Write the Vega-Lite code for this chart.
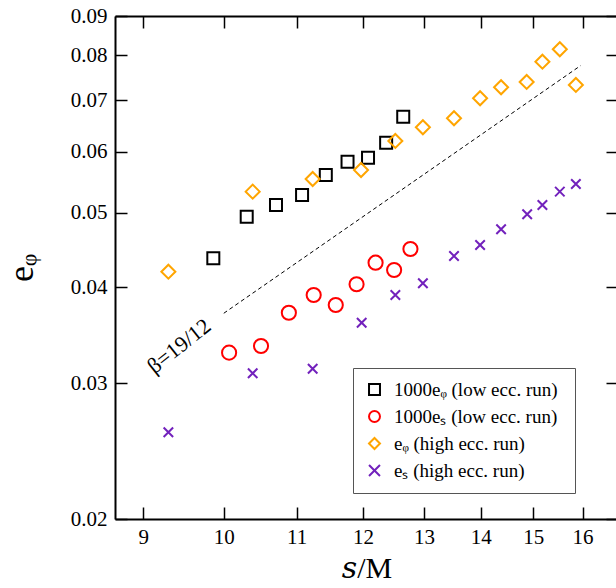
{
  "$schema": "https://vega.github.io/schema/vega-lite/v6.json",
  "width": 503,
  "height": 503,
  "autosize": "none",
  "padding": {"left": 115, "top": 16, "right": 0, "bottom": 69},
  "background": "white",
  "config": {
    "view": {"stroke": null},
    "font": "Liberation Serif",
    "axis": {
      "domainColor": "black", "domainWidth": 2,
      "tickColor": "black", "tickWidth": 1.5, "tickSize": -12,
      "labelFont": "Liberation Serif", "labelFontSize": 21, "labelColor": "black",
      "titleFont": "Liberation Serif, DejaVu Serif", "titleColor": "black", "titleFontWeight": "normal",
      "grid": false
    },
    "legend": {
      "orient": "none", "legendX": 238, "legendY": 352, "title": null,
      "strokeColor": "#555555", "fillColor": "white", "padding": 12,
      "labelFont": "Liberation Serif", "labelFontSize": 19, "labelColor": "black", "labelLimit": 400,
      "rowPadding": 7, "labelOffset": 10, "symbolStrokeWidth": 2, "symbolSize": 120
    }
  },
  "datasets": {
    "pts": [
      {"s": 9.864, "e": 0.04361, "series": "1000eᵩ  (low ecc. run)"},
      {"s": 10.305, "e": 0.04939, "series": "1000eᵩ  (low ecc. run)"},
      {"s": 10.708, "e": 0.05115, "series": "1000eᵩ  (low ecc. run)"},
      {"s": 11.08, "e": 0.0527, "series": "1000eᵩ  (low ecc. run)"},
      {"s": 11.43, "e": 0.05595, "series": "1000eᵩ  (low ecc. run)"},
      {"s": 11.76, "e": 0.05822, "series": "1000eᵩ  (low ecc. run)"},
      {"s": 12.08, "e": 0.05892, "series": "1000eᵩ  (low ecc. run)"},
      {"s": 12.37, "e": 0.06162, "series": "1000eᵩ  (low ecc. run)"},
      {"s": 12.65, "e": 0.06661, "series": "1000eᵩ  (low ecc. run)"},
      {"s": 10.07, "e": 0.03289, "series": "1000eₛ (low ecc. run)"},
      {"s": 10.5, "e": 0.03355, "series": "1000eₛ (low ecc. run)"},
      {"s": 10.89, "e": 0.03706, "series": "1000eₛ (low ecc. run)"},
      {"s": 11.25, "e": 0.03908, "series": "1000eₛ (low ecc. run)"},
      {"s": 11.58, "e": 0.03793, "series": "1000eₛ (low ecc. run)"},
      {"s": 11.9, "e": 0.04035, "series": "1000eₛ (low ecc. run)"},
      {"s": 12.2, "e": 0.04304, "series": "1000eₛ (low ecc. run)"},
      {"s": 12.5, "e": 0.04211, "series": "1000eₛ (low ecc. run)"},
      {"s": 12.77, "e": 0.04484, "series": "1000eₛ (low ecc. run)"},
      {"s": 9.3, "e": 0.0419, "series": "eᵩ (high ecc. run)"},
      {"s": 10.386, "e": 0.05323, "series": "eᵩ (high ecc. run)"},
      {"s": 11.235, "e": 0.05528, "series": "eᵩ (high ecc. run)"},
      {"s": 11.97, "e": 0.05679, "series": "eᵩ (high ecc. run)"},
      {"s": 12.52, "e": 0.06194, "series": "eᵩ (high ecc. run)"},
      {"s": 12.98, "e": 0.06453, "series": "eᵩ (high ecc. run)"},
      {"s": 13.52, "e": 0.06629, "series": "eᵩ (high ecc. run)"},
      {"s": 13.99, "e": 0.07037, "series": "eᵩ (high ecc. run)"},
      {"s": 14.38, "e": 0.07273, "series": "eᵩ (high ecc. run)"},
      {"s": 14.87, "e": 0.07389, "series": "eᵩ (high ecc. run)"},
      {"s": 15.18, "e": 0.07851, "series": "eᵩ (high ecc. run)"},
      {"s": 15.53, "e": 0.08148, "series": "eᵩ (high ecc. run)"},
      {"s": 15.86, "e": 0.07323, "series": "eᵩ (high ecc. run)"},
      {"s": 9.3, "e": 0.02592, "series": "eₛ (high ecc. run)"},
      {"s": 10.386, "e": 0.03092, "series": "eₛ (high ecc. run)"},
      {"s": 11.235, "e": 0.03135, "series": "eₛ (high ecc. run)"},
      {"s": 11.98, "e": 0.03597, "series": "eₛ (high ecc. run)"},
      {"s": 12.52, "e": 0.03908, "series": "eₛ (high ecc. run)"},
      {"s": 12.98, "e": 0.04047, "series": "eₛ (high ecc. run)"},
      {"s": 13.52, "e": 0.04391, "series": "eₛ (high ecc. run)"},
      {"s": 13.99, "e": 0.04538, "series": "eₛ (high ecc. run)"},
      {"s": 14.38, "e": 0.04756, "series": "eₛ (high ecc. run)"},
      {"s": 14.88, "e": 0.04975, "series": "eₛ (high ecc. run)"},
      {"s": 15.18, "e": 0.05115, "series": "eₛ (high ecc. run)"},
      {"s": 15.53, "e": 0.05323, "series": "eₛ (high ecc. run)"},
      {"s": 15.86, "e": 0.05446, "series": "eₛ (high ecc. run)"}
    ],
    "fit": [
      {"s": 10.0, "e": 0.037},
      {"s": 15.96, "e": 0.0776}
    ],
    "lab": [
      {"s": 9.431, "e": 0.03355, "label": "β=19/12"}
    ]
  },
  "encoding": {
    "x": {"field": "s", "type": "quantitative",
          "scale": {"type": "log", "domain": [8.672, 16.76], "nice": false, "zero": false}},
    "y": {"field": "e", "type": "quantitative",
          "scale": {"type": "log", "domain": [0.02, 0.09], "nice": false, "zero": false}}
  },
  "layer": [
    {
      "data": {"name": "fit"},
      "mark": {"type": "line", "color": "black", "strokeWidth": 1, "strokeDash": [4, 3]},
      "encoding": {
        "x": {"field": "s", "type": "quantitative",
              "axis": {"orient": "top", "labels": false, "title": null, "values": [9, 10, 11, 12, 13, 14, 15, 16]}},
        "y": {"field": "e", "type": "quantitative",
              "axis": {"orient": "right", "labels": false, "title": null, "values": [0.02, 0.03, 0.04, 0.05, 0.06, 0.07, 0.08, 0.09]}}
      }
    },
    {
      "data": {"name": "pts"},
      "encoding": {
        "x": {"field": "s", "type": "quantitative",
              "axis": {"orient": "bottom", "title": "𝑠/M", "titleFontSize": 30, "titlePadding": 6, "labelPadding": 19,
                       "values": [9, 10, 11, 12, 13, 14, 15, 16], "format": "d"}},
        "y": {"field": "e", "type": "quantitative",
              "axis": {"orient": "left", "title": "eᵩ", "titleFontSize": 36, "titlePadding": 30, "labelPadding": 20,
                       "values": [0.02, 0.03, 0.04, 0.05, 0.06, 0.07, 0.08, 0.09], "format": ".2f"}},
        "color": {"field": "series", "type": "nominal",
                  "scale": {"domain": ["1000eᵩ  (low ecc. run)", "1000eₛ (low ecc. run)", "eᵩ (high ecc. run)", "eₛ (high ecc. run)"],
                            "range": ["#000000", "#ff0000", "#ffa500", "#7221bc"]}},
        "shape": {"field": "series", "type": "nominal",
                  "scale": {"domain": ["1000eᵩ  (low ecc. run)", "1000eₛ (low ecc. run)", "eᵩ (high ecc. run)", "eₛ (high ecc. run)"],
                            "range": ["square", "circle", "diamond", "M-1,-1L1,1M-1,1L1,-1"]}}
      },
      "layer": [
        {"transform": [{"filter": "datum.series === '1000eᵩ  (low ecc. run)'"}],
         "mark": {"type": "point", "filled": false, "strokeWidth": 2, "opacity": 1, "size": 144}},
        {"transform": [{"filter": "datum.series === '1000eₛ (low ecc. run)'"}],
         "mark": {"type": "point", "filled": false, "strokeWidth": 2, "opacity": 1, "size": 200}},
        {"transform": [{"filter": "datum.series === 'eᵩ (high ecc. run)'"}],
         "mark": {"type": "point", "filled": false, "strokeWidth": 2, "opacity": 1, "size": 196}},
        {"transform": [{"filter": "datum.series === 'eₛ (high ecc. run)'"}],
         "mark": {"type": "point", "filled": false, "strokeWidth": 2, "opacity": 1, "size": 90}}
      ]
    },
    {
      "data": {"name": "lab"},
      "mark": {"type": "text", "angle": 321.5, "font": "Liberation Serif", "fontSize": 22, "align": "center", "baseline": "middle", "color": "black"},
      "encoding": {
        "x": {"field": "s", "type": "quantitative", "axis": null},
        "y": {"field": "e", "type": "quantitative", "axis": null},
        "text": {"field": "label"}
      }
    }
  ],
  "resolve": {"axis": {"x": "independent", "y": "independent"}}
}
